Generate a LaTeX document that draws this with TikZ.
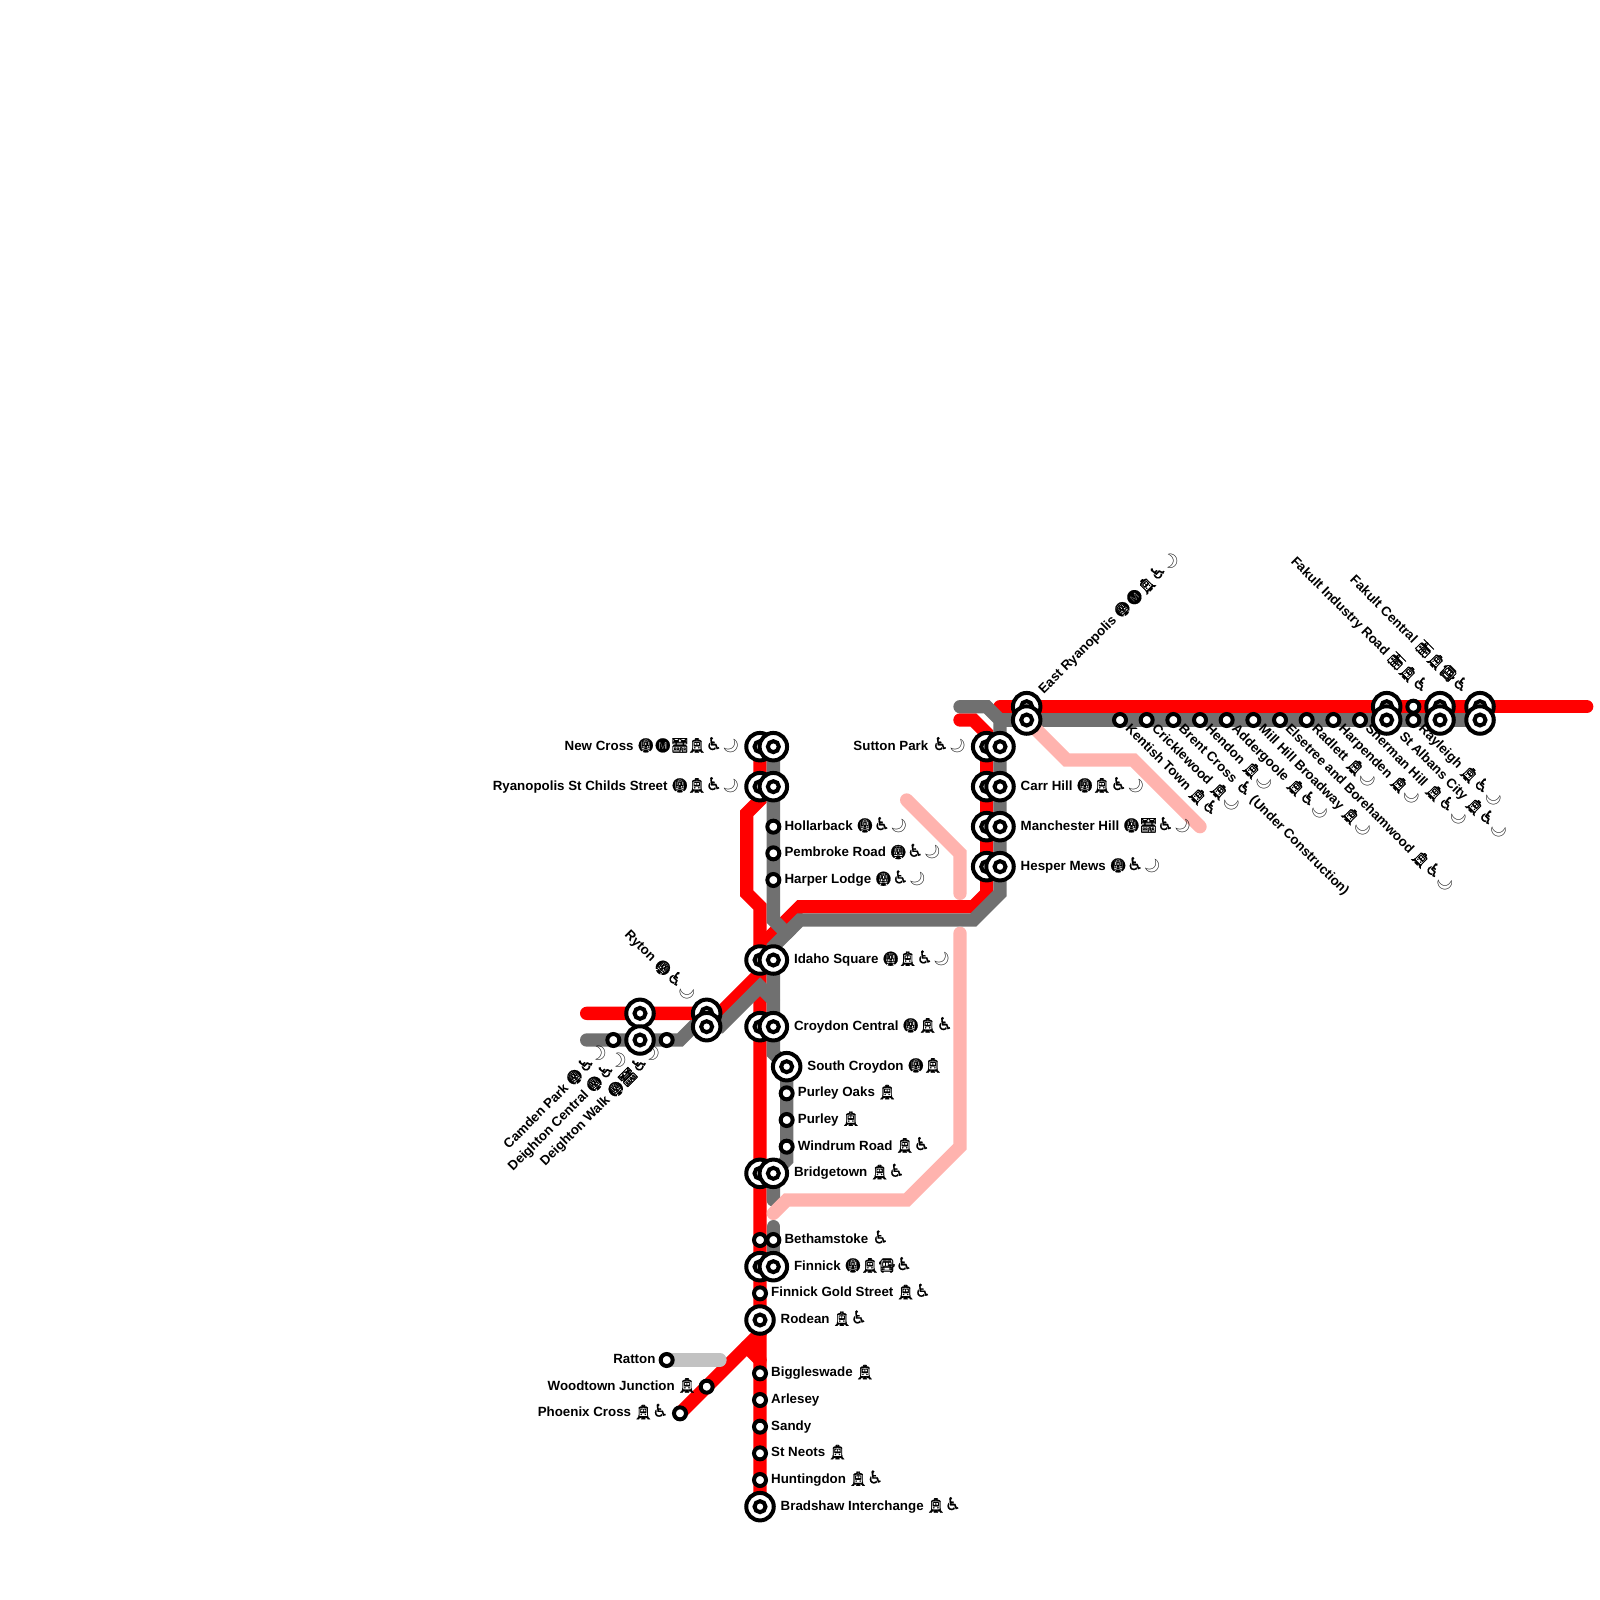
\documentclass[tikz,border=0pt]{standalone}
\usepackage{fontspec}
\setmainfont{Liberation Sans}
\newfontfamily\emojifont[FakeBold=1.2]{Noto Emoji}
\newfontfamily\moonfont{Noto Emoji}
\newfontfamily\chairfont[FakeBold=0.6]{DejaVu Sans}
\usetikzlibrary{backgrounds}
\newcommand{\icon}[1]{\makebox[17pt][c]{\emojifont\fontsize{14}{15}\selectfont #1}}
\newcommand{\icMetro}{\icon{🚇}}
\newcommand{\icM}{\icon{Ⓜ}}
\newcommand{\icRail}{\icon{🚟}}
\newcommand{\icTram}{\icon{🚊}}
\newcommand{\icBus}{\icon{🚍}}
\newcommand{\icCar}{\icon{🚋}}
\newcommand{\icChair}{\makebox[17pt][c]{\chairfont\fontsize{18}{15}\selectfont ♿}}
\newcommand{\icMoon}{\makebox[17pt][c]{\moonfont\fontsize{13.3}{15}\selectfont 🌙}}
\definecolor{lineRed}{HTML}{FF0000}
\definecolor{lineGrey}{HTML}{707070}
\definecolor{linePink}{HTML}{FFB3AE}
\definecolor{lineLight}{HTML}{C2C2C2}
\tikzset{
    stop/.style={
        circle,
        draw=black,
        fill=white,
        line width=4pt,
        inner sep=0pt,
        outer sep=0pt,
        minimum size=12pt
    },
    hub/.style={
        stop,
        minimum size=27.5pt
    },
    hubcore/.style={
        stop,
        minimum size=11pt
    },
    lbl/.style={
        font=\fontsize{13.33}{15}\bfseries\selectfont,
        inner sep=0pt,
        text height=10pt,
        text depth=3pt
    },
    toE/.style={lbl,anchor=west,xshift=#1},
    toW/.style={lbl,anchor=east,xshift=-#1},
    toSE/.style={lbl,rotate=-45,anchor=west,xshift=#1},
    toNE/.style={lbl,rotate=45,anchor=west,xshift=#1},
    toSW/.style={lbl,rotate=45,anchor=east,xshift=-#1},
    toNW/.style={lbl,rotate=-45,anchor=east,xshift=-#1},
    metro/.style={
        line width=13.333pt,
        line cap=round,
        line join=miter
    },
    redline/.style={metro,lineRed},
    greyline/.style={metro,lineGrey},
    pinkline/.style={metro,linePink},
    lightline/.style={metro,lineLight}
}
\begin{document}
\begin{tikzpicture}[x=13.333pt,y=-13.333pt]

      \useasboundingbox (0,0) rectangle (120,120);

      \coordinate (redwest) at (44,76);
      \coordinate (greywest) at (44,78);
      \coordinate (redstub) at (72,54);
      \coordinate (greystub) at (72,53);
      \coordinate (redtop) at (75,53);
      \coordinate (redeast) at (119,53);
      \coordinate (greycut) at (58,90);
      \coordinate (greyback) at (58,92);
      \coordinate (lightend) at (54,102);

      \foreach \name/\x/\y in {
          newcrossred/57/56, newcross/58/56,
          ryanopolisred/57/59, ryanopolis/58/59,
          idahored/57/72, idaho/58/72,
          croydonred/57/77, croydon/58/77,
          southcroydon/59/80,
          bridgetownred/57/88, bridgetown/58/88,
          finnickred/57/95, finnick/58/95,
          rodean/57/99, bradshaw/57/113,
          deightonred/48/76, deighton/48/78,
          ryton/53/76, rytongrey/53/77,
          suttonred/74/56, sutton/75/56,
          carrred/74/59, carr/75/59,
          manchesterred/74/62, manchester/75/62,
          hesperred/74/65, hesper/75/65,
          eastryanopolis/77/53, eastgrey/77/54,
          stalbansred/104/53, stalbans/104/54,
          industry/108/53, industrygrey/108/54,
          fakult/111/53, fakultgrey/111/54}
        {
          \node[hub] (\name) at (\x,\y) {};
          \node[hubcore] (\name-c) at (\name) {};
        }

      \foreach \name/\x/\y in {
          hollarback/58/62, pembroke/58/64, harper/58/66,
          purleyoaks/59/82, purley/59/84, windrum/59/86,
          bethamred/57/93, betham/58/93,
          finnickgold/57/97,
          biggleswade/57/103, arlesey/57/105, sandy/57/107,
          stneots/57/109, huntingdon/57/111,
          ratton/50/102, woodtown/53/104, phoenix/51/106,
          camden/46/78, deightonwalk/50/78,
          kentish/84/54, cricklewood/86/54, brent/88/54,
          hendon/90/54, addergoole/92/54, millhill/94/54,
          elsetree/96/54, radlett/98/54, harpenden/100/54,
          sherman/102/54, rayleigh/106/54, rayleighred/106/53}
        {
          \node[stop] (\name) at (\x,\y) {};
        }

      \foreach \name/\gap/\where/\txt in {
          newcrossred/20.5pt/toW/{New Cross \icMetro\icM\icRail\icTram\icChair\icMoon},
          ryanopolisred/20.5pt/toW/{Ryanopolis St Childs Street \icMetro\icTram\icChair\icMoon},
          suttonred/20.5pt/toW/{Sutton Park \icChair\icMoon},
          ratton/11pt/toW/{Ratton},
          woodtown/11pt/toW/{Woodtown Junction \icTram},
          phoenix/11pt/toW/{Phoenix Cross \icTram\icChair},
          hollarback/11pt/toE/{Hollarback \icMetro\icChair\icMoon},
          pembroke/11pt/toE/{Pembroke Road \icMetro\icChair\icMoon},
          harper/11pt/toE/{Harper Lodge \icMetro\icChair\icMoon},
          idaho/20.5pt/toE/{Idaho Square \icMetro\icTram\icChair\icMoon},
          croydon/20.5pt/toE/{Croydon Central \icMetro\icTram\icChair},
          southcroydon/20.5pt/toE/{South Croydon \icMetro\icTram},
          purleyoaks/11pt/toE/{Purley Oaks \icTram},
          purley/11pt/toE/{Purley \icTram},
          windrum/11pt/toE/{Windrum Road \icTram\icChair},
          bridgetown/20.5pt/toE/{Bridgetown \icTram\icChair},
          betham/11pt/toE/{Bethamstoke \icChair},
          finnick/20.5pt/toE/{Finnick \icMetro\icTram\icBus\icChair},
          finnickgold/11pt/toE/{Finnick Gold Street \icTram\icChair},
          rodean/20.5pt/toE/{Rodean \icTram\icChair},
          biggleswade/11pt/toE/{Biggleswade \icTram},
          arlesey/11pt/toE/{Arlesey},
          sandy/11pt/toE/{Sandy},
          stneots/11pt/toE/{St Neots \icTram},
          huntingdon/11pt/toE/{Huntingdon \icTram\icChair},
          bradshaw/20.5pt/toE/{Bradshaw Interchange \icTram\icChair},
          carr/20.5pt/toE/{Carr Hill \icMetro\icTram\icChair\icMoon},
          manchester/20.5pt/toE/{Manchester Hill \icMetro\icRail\icChair\icMoon},
          hesper/20.5pt/toE/{Hesper Mews \icMetro\icChair\icMoon},
          ryton/20.5pt/toNW/{Ryton \icMetro\icChair\icMoon},
          camden/11pt/toSW/{Camden Park \icMetro\icChair\icMoon},
          deighton/20.5pt/toSW/{Deighton Central \icMetro\icChair\icMoon},
          deightonwalk/11pt/toSW/{Deighton Walk \icMetro\icRail\icChair\icMoon},
          eastryanopolis/20.5pt/toNE/{East Ryanopolis \icMetro\icM\icTram\icChair\icMoon},
          kentish/10pt/toSE/{Kentish Town \icTram\icChair},
          cricklewood/10pt/toSE/{Cricklewood \icTram\icMoon},
          brent/10pt/toSE/{Brent Cross \icChair{} (Under Construction)},
          hendon/10pt/toSE/{Hendon \icTram\icMoon},
          addergoole/10pt/toSE/{Addergoole \icTram\icChair\icMoon},
          millhill/10pt/toSE/{Mill Hill Broadway \icTram\icMoon},
          elsetree/10pt/toSE/{Elsetree and Borehamwood \icTram\icChair\icMoon},
          radlett/10pt/toSE/{Radlett \icTram\icMoon},
          harpenden/10pt/toSE/{Harpenden \icTram\icMoon},
          sherman/10pt/toSE/{Sherman Hill \icTram\icChair\icMoon},
          stalbans/20.5pt/toSE/{St Albans City \icTram\icChair\icMoon},
          rayleigh/10pt/toSE/{Rayleigh \icTram\icChair\icMoon},
          industry/20.5pt/toNW/{Fakult Industry Road \icCar\icTram\icChair},
          fakult/20.5pt/toNW/{Fakult Central \icCar\icTram\icBus\icChair}}
        {
          \node[\where=\gap] (\name-t) at (\name) {\txt};
        }

      \begin{pgfonlayer}{background}
        \draw[redline] (newcrossred.center)--(57,60)--(56,61)--(56,67)--(57,68)--(bradshaw.center);
        \draw[redline] (redwest)--(ryton.center)--(54,76)--(57,73);
        \draw[redline] (phoenix.center)--(56,101)--(57,100);
        \draw[redline] (56,101)--(57,102);
        \draw[redline] (redstub)--(73,54)--(74,55)--(74,67)--(73,68)--(60,68)--(57,71);
        \draw[redline] (redtop)--(redeast);

        \draw[greyline] (newcross.center)--(58,69)--(59,70)--(58,71)--(58,79)--(59,80)--(59,87)--(58,88)--(greycut);
        \draw[greyline] (greywest)--(51,78)--(52,77)--(54,77)--(57,74)--(58,75);
        \draw[greyline] (greystub)--(74,53)--(75,54)--(75,67)--(73,69)--(60,69)--(59,70);
        \draw[greyline] (75,54)--(fakultgrey.center);
        \draw[greyline] (greyback)--(finnick.center);

        \draw[pinkline] (58,91)--(59,90)--(68,90)--(72,86)--(72,70);
        \draw[pinkline] (68,60)--(72,64)--(72,67);
        \draw[pinkline] (eastgrey.center)--(80,57)--(85,57)--(90,62);

        \draw[lightline] (ratton.center)--(lightend);
      \end{pgfonlayer}

    \end{tikzpicture}
\end{document}
